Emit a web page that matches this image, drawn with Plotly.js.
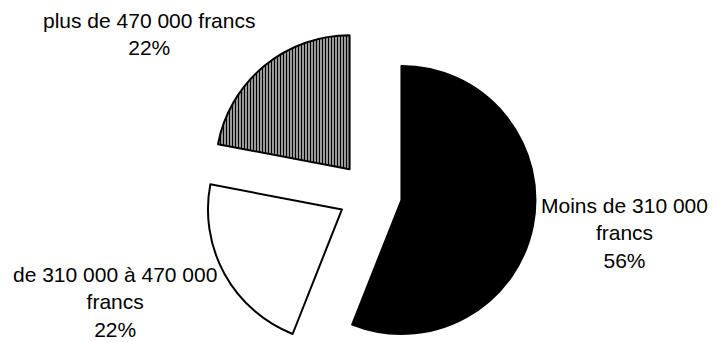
<!DOCTYPE html>
<html>
<head>
<meta charset="utf-8">
<script src="https://cdn.plot.ly/plotly-3.0.1.min.js"></script>
<style>
html, body { margin: 0; padding: 0; overflow: hidden; background: #fff; }
#chart { width: 714px; height: 342px; overflow: hidden; }
</style>
</head>
<body>
<div id="chart"></div>
<script>
var labels = ['Moins de 310 000<br>francs', 'de 310 000 à 470 000<br>francs', 'plus de 470 000 francs'];
var values = [56, 22, 22];
var sliceColors = ['#000000', '#ffffff', '#ffffff'];
var slicePatterns = ['', '', '|'];

var total = values.reduce(function (a, b) { return a + b; }, 0);
var labelTexts = labels.map(function (l, i) {
  return l + '<br>' + Math.round(values[i] / total * 100) + '%';
});

// label block centres (paper fractions of the plot area)
var PL = 26, PW = 688, PT = 28, PH = 332;
function px(x) { return (x - PL) / PW; }
function py(y) { return 1 - (y - PT) / PH; }
var labelPos = [[624, 233], [115, 302], [149, 34]];

var FONT = 'Arial, "Liberation Sans", sans-serif';

var trace = {
  type: 'pie',
  labels: labels,
  values: values,
  sort: false,
  direction: 'clockwise',
  rotation: 0,
  pull: [0.239, 0.239, 0.239],
  textinfo: 'none',
  hoverinfo: 'none',
  marker: {
    colors: sliceColors,
    line: { color: '#000000', width: 2 },
    pattern: { shape: slicePatterns, fgcolor: '#000000', bgcolor: '#ffffff', size: 3, solidity: 0.6 }
  },
  domain: { x: [0, 1], y: [0, 1] },
  showlegend: false
};

var annotations = labelTexts.map(function (t, i) {
  return {
    text: t,
    xref: 'paper', yref: 'paper',
    x: px(labelPos[i][0]), y: py(labelPos[i][1]),
    xanchor: 'center', yanchor: 'middle',
    align: 'center',
    borderpad: 0,
    showarrow: false,
    font: { family: FONT, size: 21, color: '#000000' }
  };
});

var layout = {
  width: 714,
  height: 360,
  margin: { l: PL, r: 0, t: PT, b: 0 },
  paper_bgcolor: '#ffffff',
  plot_bgcolor: '#ffffff',
  font: { family: FONT, size: 21, color: '#000000' },
  showlegend: false,
  annotations: annotations
};

Plotly.newPlot('chart', [trace], layout, { staticPlot: true, displayModeBar: false });
</script>
</body>
</html>
